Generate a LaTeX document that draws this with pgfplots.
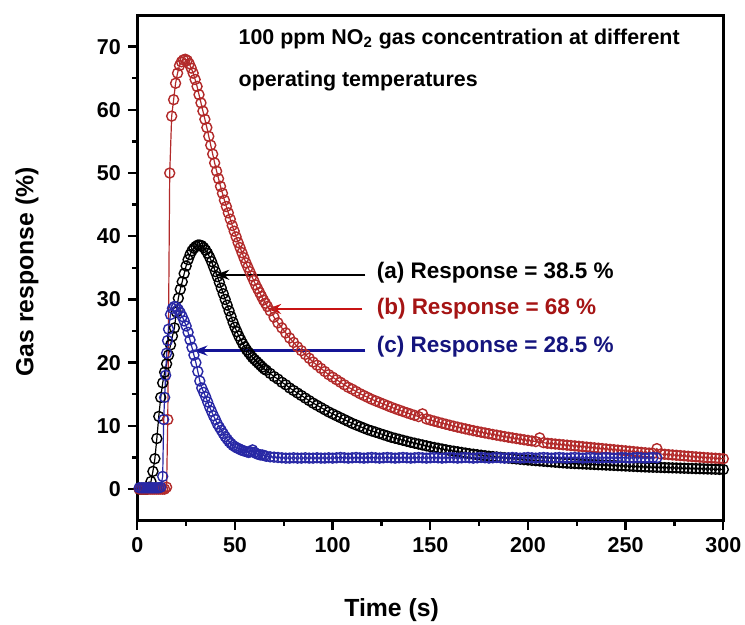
\documentclass[border=0pt]{standalone}
\usepackage{fontspec}
\setmainfont{Liberation Sans}
\usepackage{pgfplots}
\pgfplotsset{compat=1.18}
\usetikzlibrary{arrows.meta}
\definecolor{cred}{RGB}{178,42,42}
\definecolor{cblue}{RGB}{40,40,165}
\definecolor{tred}{RGB}{165,20,20}
\definecolor{tblue}{RGB}{20,20,125}
\definecolor{ared}{RGB}{200,20,20}
\definecolor{ablue}{RGB}{20,20,150}
\begin{document}
\begin{tikzpicture}
\path[use as bounding box] (-68.65pt,-52.15pt) rectangle (303.85pt,260.35pt);
\begin{axis}[
  at={(0,0)}, anchor=south west,
  width=293pt, height=252.85pt, scale only axis,
  xmin=0, xmax=300, ymin=-5, ymax=75,
  xtick={0,50,...,300}, minor xtick={25,75,...,275},
  ytick={0,10,...,70}, minor ytick={5,15,...,65},
  xtick pos=bottom, ytick pos=left, tick align=outside,
  major tick length=4.7pt, minor tick length=2.5pt,
  every tick/.style={black, line width=1.2pt},
  axis line style={line width=1.5pt},
  /pgf/number format/assume math mode=true,
  tick label style={font=\fontsize{10.75pt}{12pt}\selectfont\bfseries},
  xlabel={Time (s)}, ylabel={Gas response (\%)},
  label style={font=\fontsize{12.4pt}{14pt}\selectfont\bfseries},
  xlabel style={at={(axis description cs:0.434,-0.1898)}, anchor=base},
  ylabel style={at={(axis description cs:-0.1775,0.492)}, anchor=base},
  every axis plot/.append style={line width=0.6pt, mark=o, mark size=2.5pt, mark options={fill=white, line width=0.7pt}},
]
% (a) black
\addplot[black] coordinates {
(1,0)(2,0)(3,0)(4,0)(5,0)(6,0.3)(7,1.2)(8,2.8)(9,4.8)(10,8)(11,11.5)(12,14.5)(13,16.8)(14,18.5)(15,19.8)(16,21.2)(17,22.8)(18,24.2)(19,25.5)(20,28)
(21,30.2)(22,31.6)(23,32.8)(24,34.1)(25,35.3)(26,36.3)(27,37.1)(28,37.7)(29,38.1)(30,38.4)(31,38.6)(32,38.6)(33,38.5)(34,38.2)(35,37.8)(36,37.3)(37,36.7)(38,36)(39,35.2)(40,34.4)
(41,33.6)(42,32.7)(43,31.8)(44,30.9)(45,30)(46,29.1)(47,28.2)(48,27.3)(49,26.4)(50,25.6)(51,24.9)(52,24.2)(53,23.6)(54,23)(55,22.5)(56,22)(57,21.6)(58,21.2)(59,20.8)(60,20.5)
(61,20.2)(62,19.9)(63,19.6)(64,19.3)(65,19.0)(66,18.8)(68,18.3)(70,17.8)(72,17.4)(74,16.9)(76,16.5)(78,16)(80,15.6)(82,15.2)(84,14.8)(86,14.4)(88,14)(90,13.6)
(92,13.25)(94,12.9)(96,12.55)(98,12.2)(100,11.9)(102,11.6)(104,11.3)(106,11)(108,10.7)(110,10.4)(112,10.15)(114,9.9)(116,9.65)(118,9.4)(120,9.2)(122,9.0)(124,8.8)(126,8.6)(128,8.4)(130,8.2)
(132,8.04)(134,7.88)(136,7.72)(138,7.56)(140,7.4)(142,7.26)(144,7.12)(146,6.98)(148,6.84)(150,6.7)(152,6.58)(154,6.46)(156,6.34)(158,6.22)(160,6.1)(162,6.0)(164,5.9)(166,5.8)(168,5.7)(170,5.6)
(172,5.52)(174,5.44)(176,5.36)(178,5.28)(180,5.2)(182,5.14)(184,5.08)(186,5.02)(188,4.96)(190,4.9)(192,4.84)(194,4.78)(196,4.72)(198,4.66)(200,4.6)(202,4.55)(204,4.5)(206,4.45)(208,4.4)(210,4.35)
(212,4.3)(214,4.25)(216,4.2)(218,4.15)(220,4.1)(222,4.07)(224,4.04)(226,4.01)(228,3.98)(230,3.95)(232,3.92)(234,3.89)(236,3.86)(238,3.83)(240,3.8)(242,3.77)(244,3.74)(246,3.71)(248,3.68)(250,3.65)
(252,3.62)(254,3.59)(256,3.56)(258,3.53)(260,3.5)(262,3.48)(264,3.46)(266,3.44)(268,3.42)(270,3.4)(272,3.38)(274,3.36)(276,3.34)(278,3.32)(280,3.3)(282,3.28)(284,3.26)(286,3.24)(288,3.22)(290,3.2)
(292,3.18)(294,3.16)(296,3.14)(298,3.12)(300,3.1)
};
% (b) red
\addplot[cred] coordinates {
(1,0)(2,0)(3,0)(4,0)(5,0)(6,0)(7,0)(8,0)(9,0)(10,0)(11,0)(12,0)(13,0)(14,0)(15,0.3)(15.6,11)(16.6,50)(17.6,59)(18.6,61.6)(19.6,64.2)
(20.6,65.8)(21.6,67)(22.6,67.6)(23.6,67.9)(24.6,68)(25.6,67.8)(26.6,67.3)(27.6,66.6)(28.6,65.8)(29.6,64.8)(30.6,63.7)(31.6,62.4)(32.6,61.1)(33.6,59.8)(34.6,58.5)(35.6,57.2)(36.6,55.8)(37.6,54.4)(38.6,53)(39.6,51.6)
(40.6,50.3)(41.6,49.1)(42.6,47.9)(43.6,46.8)(44.6,45.7)(45.6,44.7)(46.6,43.7)(47.6,42.7)(48.6,41.7)(49.6,40.8)(50.6,39.9)(51.6,39)(52.6,38.2)(53.6,37.4)(54.6,36.6)(55.6,35.8)(56.6,35.1)(57.6,34.4)(58.6,33.7)(59.6,33)
(60.6,32.3)(61.6,31.7)(62.6,31.1)(63.6,30.5)(64.6,29.9)(65.6,29.4)(66.6,28.9)(68,28.2)(70,27.2)(72,26.3)(74,25.5)(76,24.7)(78,23.9)(80,23.2)(82,22.5)(84,21.9)(86,21.3)(88,20.7)(90,20.1)
(92,19.6)(94,19.1)(96,18.6)(98,18.1)(100,17.7)(102,17.3)(104,16.9)(106,16.5)(108,16.1)(110,15.8)(112,15.45)(114,15.1)(116,14.8)(118,14.5)(120,14.2)(122,13.95)(124,13.7)(126,13.45)(128,13.2)(130,12.95)
(132,12.72)(134,12.5)(136,12.28)(138,12.07)(140,11.86)(142,11.66)(144,11.47)(146,11.9)(148,11.1)(150,10.92)(152,10.75)(154,10.58)(156,10.42)(158,10.26)(160,10.1)(162,9.95)(164,9.8)(166,9.66)(168,9.52)(170,9.38)
(172,9.25)(174,9.12)(176,9.0)(178,8.88)(180,8.76)(182,8.64)(184,8.53)(186,8.42)(188,8.31)(190,8.2)(192,8.1)(194,8.0)(196,7.9)(198,7.8)(200,7.7)(202,7.61)(204,7.52)(206,8.1)(208,7.34)(210,7.25)
(212,7.19)(214,7.13)(216,7.07)(218,7.01)(220,6.95)(222,6.89)(224,6.83)(226,6.77)(228,6.71)(230,6.65)(232,6.59)(234,6.53)(236,6.47)(238,6.41)(240,6.35)(242,6.29)(244,6.23)(246,6.17)(248,6.11)(250,6.05)
(252,5.99)(254,5.93)(256,5.87)(258,5.81)(260,5.75)(262,5.7)(264,5.65)(266,6.4)(268,5.55)(270,5.5)(272,5.45)(274,5.4)(276,5.35)(278,5.3)(280,5.25)(282,5.2)(284,5.15)(286,5.1)(288,5.05)(290,5.0)
(292,4.96)(294,4.92)(296,4.88)(298,4.84)(300,4.8)
};
% (c) blue
\addplot[cblue] coordinates {
(1,0.2)(2,0.2)(3,0.2)(4,0.2)(5,0.2)(6,0.2)(7,0.2)(8,0.2)(9,0.2)(10,0.2)(11,0.2)(12,0.3)(13,2)(13.5,11)(14,14.5)(14.5,18)(15,21.5)(15.5,23.5)(16,25.3)(17,27.6)
(18,28.6)(19,28.9)(20,28.8)(21,28.4)(22,27.9)(23,27.3)(24,26.6)(25,25.8)(26,24.8)(27,23.6)(28,22.4)(29,21.2)(30,20)(31,18.6)(32,17.1)(33,16)(34,15.3)(35,14.6)(36,13.8)(37,13)
(38,12.3)(39,11.6)(40,11)(41,10.3)(42,9.8)(43,9.3)(44,8.8)(45,8.3)(46,7.9)(47,7.5)(48,7.2)(49,6.9)(50,6.7)(51,6.5)(52,6.4)(53,6.2)(54,6.1)(55,6.0)(56,5.9)(57,5.8)
(58,5.9)(59,6.2)(60,5.8)(61,5.6)(62,5.5)(63,5.4)(64,5.4)(65,5.3)(66,5.2)(68,5.1)(70,5.05)(72,5.0)(74,4.95)(76,4.9)(78,4.9)(80,4.95)(82,4.9)(84,4.9)(86,4.95)(88,4.9)
(90,4.9)(92,4.95)(94,4.9)(96,4.9)(98,4.95)(100,4.9)(102,4.95)(104,5.0)(106,4.95)(108,4.9)(110,4.95)(112,5.0)(114,4.95)(116,4.9)(118,4.95)(120,5.0)(122,4.95)(124,4.9)(126,4.95)(128,5.0)
(130,4.95)(132,4.9)(134,4.95)(136,5.0)(138,4.95)(140,4.9)(142,4.95)(144,5.0)(146,4.95)(148,4.9)(150,4.95)(152,5.0)(154,4.95)(156,4.9)(158,4.95)(160,5.0)(162,4.95)(164,4.9)(166,4.95)(168,5.0)
(170,4.95)(172,4.9)(174,4.95)(176,5.0)(178,4.95)(180,4.9)(182,4.95)(184,5.0)(186,4.95)(188,4.9)(190,4.95)(192,5.0)(194,4.95)(196,4.9)(198,4.95)(200,5.0)(202,4.95)(204,4.9)(206,4.95)(208,5.0)
(210,4.95)(212,4.9)(214,4.95)(216,5.0)(218,4.95)(220,4.9)(222,4.95)(224,5.0)(226,4.95)(228,4.9)(230,4.95)(232,5.0)(234,4.95)(236,4.9)(238,4.95)(240,5.0)(242,4.95)(244,4.9)(246,4.95)(248,5.0)
(250,4.95)(252,4.9)(254,4.95)(256,5.0)(258,4.95)(260,4.9)(262,4.95)(264,5.0)(266,4.95)
};
% annotations
\draw[black, line width=1.2pt, -{Stealth[length=7pt,width=5pt]}] (axis cs:116.7,33.9) -- (axis cs:39.9,33.9);
\draw[ared, line width=1.2pt, -{Stealth[length=7pt,width=5pt]}] (axis cs:115.2,28.5) -- (axis cs:66.5,28.5);
\draw[ablue, line width=1.2pt, -{Stealth[length=7pt,width=5pt]}] (axis cs:116.7,21.9) -- (axis cs:28.7,21.9);
\node[anchor=base west, inner sep=0pt, font=\fontsize{11.25pt}{13pt}\selectfont\bfseries] at (axis cs:122.4,33.3) {(a) Response = 38.5 \%};
\node[anchor=base west, inner sep=0pt, text=tred, font=\fontsize{11.25pt}{13pt}\selectfont\bfseries] at (axis cs:122.4,27.6) {(b) Response = 68 \%};
\node[anchor=base west, inner sep=0pt, text=tblue, font=\fontsize{11.25pt}{13pt}\selectfont\bfseries] at (axis cs:122.4,21.6) {(c) Response = 28.5 \%};
\node[anchor=base west, inner sep=0pt, font=\fontsize{10.7pt}{13pt}\selectfont\bfseries] at (axis cs:51.7,70.3) {100 ppm NO\textsubscript{2} gas concentration at different};
\node[anchor=base west, inner sep=0pt, font=\fontsize{10.7pt}{13pt}\selectfont\bfseries] at (axis cs:51.7,63.7) {operating temperatures};
\end{axis}
\end{tikzpicture}
\end{document}
